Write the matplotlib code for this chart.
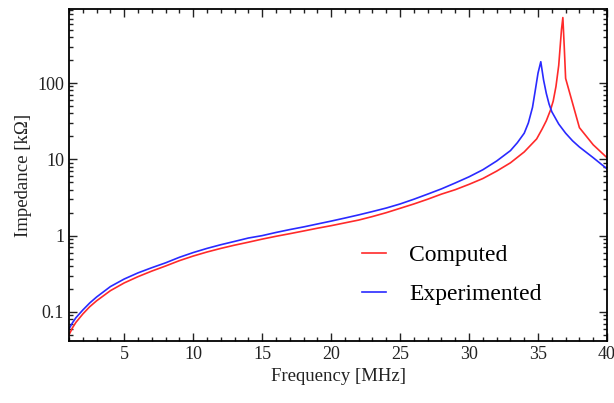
import matplotlib
matplotlib.use("Agg")
import matplotlib.pyplot as plt
from matplotlib.ticker import MultipleLocator, LogLocator, NullFormatter, FixedLocator

plt.rcParams["font.family"] = ["Liberation Serif", "DejaVu Serif"]

# computed impedance (red)
freq_comp = [1, 1.25, 1.5, 2, 2.5, 3, 4, 5, 6, 7, 8, 9, 10, 11, 12, 13, 14, 15,
             16, 17, 18, 19, 20, 21, 22, 23, 24, 25, 26, 27, 28, 29, 30, 31, 32,
             33, 34, 34.9, 35.3, 35.6, 35.9, 36.1, 36.3, 36.5, 36.7, 36.8, 36.9,
             37, 38, 39, 40]
imp_comp = [0.05, 0.062, 0.073, 0.094, 0.117, 0.14, 0.19, 0.24, 0.29, 0.343,
            0.4, 0.47, 0.54, 0.61, 0.68, 0.75, 0.82, 0.9, 0.98, 1.06, 1.15, 1.25,
            1.35, 1.47, 1.6, 1.78, 2.0, 2.28, 2.6, 3.0, 3.5, 4.0, 4.7, 5.6, 7.0,
            9.0, 12.5, 18.5, 25, 32, 44, 58, 90, 170, 500, 720, 300, 115, 26,
            15.5, 10.5]

# experimented impedance (blue)
freq_exp = [1, 1.25, 1.5, 2, 2.5, 3, 4, 5, 6, 7, 8, 9, 10, 11, 12, 13, 14, 15,
            16, 17, 18, 19, 20, 21, 22, 23, 24, 25, 26, 27, 28, 29, 30, 31, 32,
            33, 33.5, 34, 34.3, 34.6, 34.8, 35.0, 35.2, 35.4, 35.6, 35.8, 36,
            36.5, 37, 37.5, 38, 39, 40]
imp_exp = [0.06, 0.072, 0.084, 0.106, 0.131, 0.157, 0.215, 0.27, 0.325, 0.38,
           0.44, 0.52, 0.6, 0.68, 0.76, 0.84, 0.93, 1.0, 1.1, 1.2, 1.3, 1.42,
           1.55, 1.7, 1.87, 2.07, 2.3, 2.6, 3.0, 3.5, 4.1, 4.9, 5.9, 7.3, 9.5,
           13, 16.5, 22, 30, 48, 80, 135, 190, 110, 73, 53, 42, 29, 22, 17.5,
           14.5, 10.5, 7.5]

fig = plt.figure(figsize=(6.14, 4.03), dpi=100)
ax = fig.add_axes([0.1124, 0.1538, 0.8762, 0.8239])

ax.plot(freq_comp, imp_comp, c="#ff2a2a", linewidth=1.2, label="Computed")
ax.plot(freq_exp, imp_exp, c="#2a2aff", linewidth=1.2, label="Experimented")

ax.set_yscale("log")
ax.set_xlim(1, 40)
ax.set_ylim(0.0416, 933)

ax.xaxis.set_major_locator(FixedLocator([5, 10, 15, 20, 25, 30, 35, 40]))
ax.xaxis.set_minor_locator(MultipleLocator(1))
ax.yaxis.set_major_locator(FixedLocator([0.1, 1, 10, 100]))
ax.yaxis.set_major_formatter(plt.FuncFormatter(lambda v, p: "%g" % v))
ax.yaxis.set_minor_locator(LogLocator(base=10, subs=range(2, 10)))
ax.yaxis.set_minor_formatter(NullFormatter())

ax.tick_params(which="both", direction="in", top=True, right=True,
               labelsize=13, colors="#222222", width=1)
ax.tick_params(which="major", length=6)
ax.tick_params(which="minor", length=3)
for s in ax.spines.values():
  s.set_linewidth(1.3)

ax.set_xlabel("Frequency [MHz]", fontsize=13.5, color="#222222")
ax.set_ylabel("Impedance [k\u03a9]", fontsize=13.5, color="#222222")

ax.legend(frameon=False, fontsize=17, handlelength=1.0, handletextpad=1.0,
          labelspacing=0.75, loc="upper left", bbox_to_anchor=(0.505, 0.355))

fig.savefig("out.png", dpi=100)
